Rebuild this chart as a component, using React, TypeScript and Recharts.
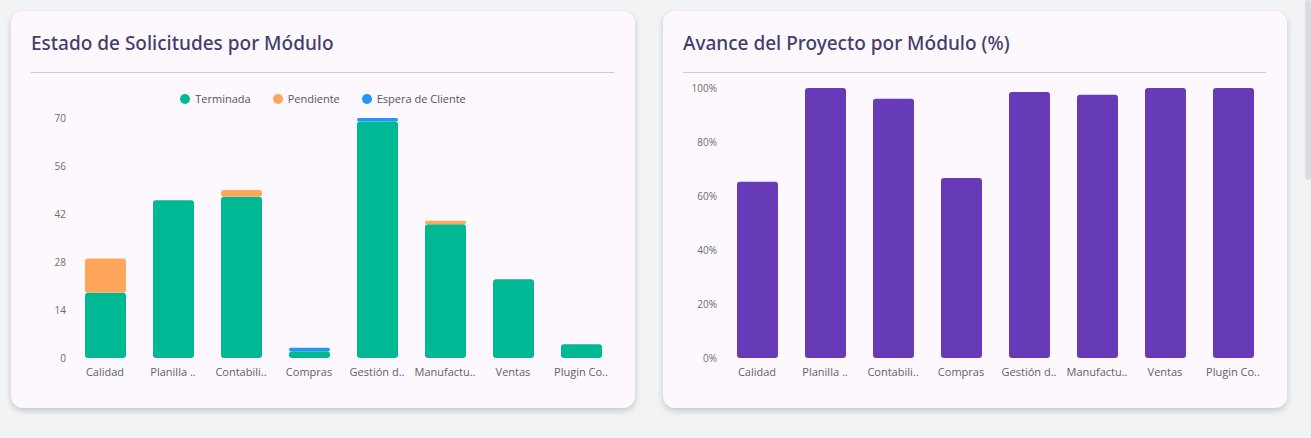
import React from 'react';
import { BarChart, Bar, XAxis, YAxis, Legend } from 'recharts';

const modulos = ['Calidad', 'Planilla ..', 'Contabili..', 'Compras', 'Gestión d..', 'Manufactu..', 'Ventas', 'Plugin Co..'];
const terminada = [19, 46, 47, 2, 69, 39, 23, 4];
const pendiente = [10, 0, 2, 0, 0, 1, 0, 0];
const esperaCliente = [0, 0, 0, 1, 1, 0, 0, 0];
const avance = [65.3, 100, 96, 66.7, 98.5, 97.5, 100, 100];

const solicitudTicks = [0, 14, 28, 42, 56, 70];
const avanceTicks = [0, 20, 40, 60, 80, 100];

const estadoSeries = [
    { key: 'terminada', name: 'Terminada', color: '#00b894' },
    { key: 'pendiente', name: 'Pendiente', color: '#ffa65c' },
    { key: 'espera', name: 'Espera de Cliente', color: '#2196f3' },
];

const estadoData = modulos.map((m, i) => ({
    modulo: m,
    terminada: terminada[i],
    pendiente: pendiente[i],
    espera: esperaCliente[i],
}));

const avanceData = modulos.map((m, i) => ({ modulo: m, avance: avance[i] }));

const FONT = '"Open Sans", "Noto Sans", sans-serif';
const tickY = { fill: '#6b6b70', fontSize: 10, fontFamily: FONT };
const tickX = { fill: '#5f5f66', fontSize: 11, fontFamily: FONT };

const cardStyle: React.CSSProperties = {
    position: 'absolute',
    top: 11,
    width: 624,
    height: 397,
    background: '#fcf8fd',
    borderRadius: 12,
    boxShadow: '0 3px 6px rgba(0,0,0,0.18)',
};

function CardHeader({ title }: { title: string }) {
    return (
        <>
            <div style={{ position: 'absolute', left: 20, top: 19, fontFamily: '"Noto Sans", sans-serif', fontWeight: 500, fontSize: 19, color: '#433e6e' }}>
                {title}
            </div>
            <div style={{ position: 'absolute', left: 20, right: 21, top: 61, height: 1, background: '#cfc9d6' }} />
        </>
    );
}

function EstadoLegend() {
    return (
        <div style={{ display: 'flex', justifyContent: 'center', gap: 22, fontFamily: FONT, fontSize: 11, color: '#55555c' }}>
            {estadoSeries.map((s) => (
                <div key={s.key} style={{ display: 'flex', alignItems: 'center', gap: 5 }}>
                    <span style={{ width: 10, height: 10, borderRadius: 5, background: s.color, display: 'inline-block' }} />
                    {s.name}
                </div>
            ))}
        </div>
    );
}

export default function App() {
    return (
        <div style={{ position: 'fixed', inset: 0, background: '#f2f3f5', overflow: 'hidden' }}>
            <div style={{ ...cardStyle, left: 11 }}>
                <CardHeader title="Estado de Solicitudes por Módulo" />
                <BarChart width={624} height={397} data={estadoData} margin={{ top: 92, right: 20, bottom: 20, left: 20 }}>
                    <Legend verticalAlign="top" content={() => <EstadoLegend />} wrapperStyle={{ top: 80, left: 0, width: 624 }} height={0} />
                    <XAxis dataKey="modulo" tick={tickX} tickLine={false} axisLine={false} tickSize={0} tickMargin={10} interval={0} />
                    <YAxis domain={[0, 70]} ticks={solicitudTicks} tick={tickY} tickLine={false} axisLine={false} tickSize={0} tickMargin={5} width={40} />
                    {estadoSeries.map((s) => (
                        <Bar key={s.key} dataKey={s.key} name={s.name} stackId="a" fill={s.color} barSize={41} radius={[3, 3, 3, 3]} isAnimationActive={false} />
                    ))}
                </BarChart>
            </div>
            <div style={{ ...cardStyle, left: 663 }}>
                <CardHeader title="Avance del Proyecto por Módulo (%)" />
                <BarChart width={624} height={397} data={avanceData} margin={{ top: 77, right: 20, bottom: 20, left: 20 }}>
                    <XAxis dataKey="modulo" tick={tickX} tickLine={false} axisLine={false} tickSize={0} tickMargin={10} interval={0} />
                    <YAxis domain={[0, 100]} ticks={avanceTicks} tickFormatter={(v) => `${v}%`} tick={tickY} tickLine={false} axisLine={false} tickSize={0} tickMargin={6} width={40} />
                    <Bar dataKey="avance" name="Avance" fill="#673ab7" barSize={41} radius={[3, 3, 3, 3]} isAnimationActive={false} />
                </BarChart>
            </div>
            <div style={{ position: 'absolute', right: 0, top: 0, width: 6, height: 180, background: '#dcdde0', borderRadius: 3 }} />
        </div>
    );
}
